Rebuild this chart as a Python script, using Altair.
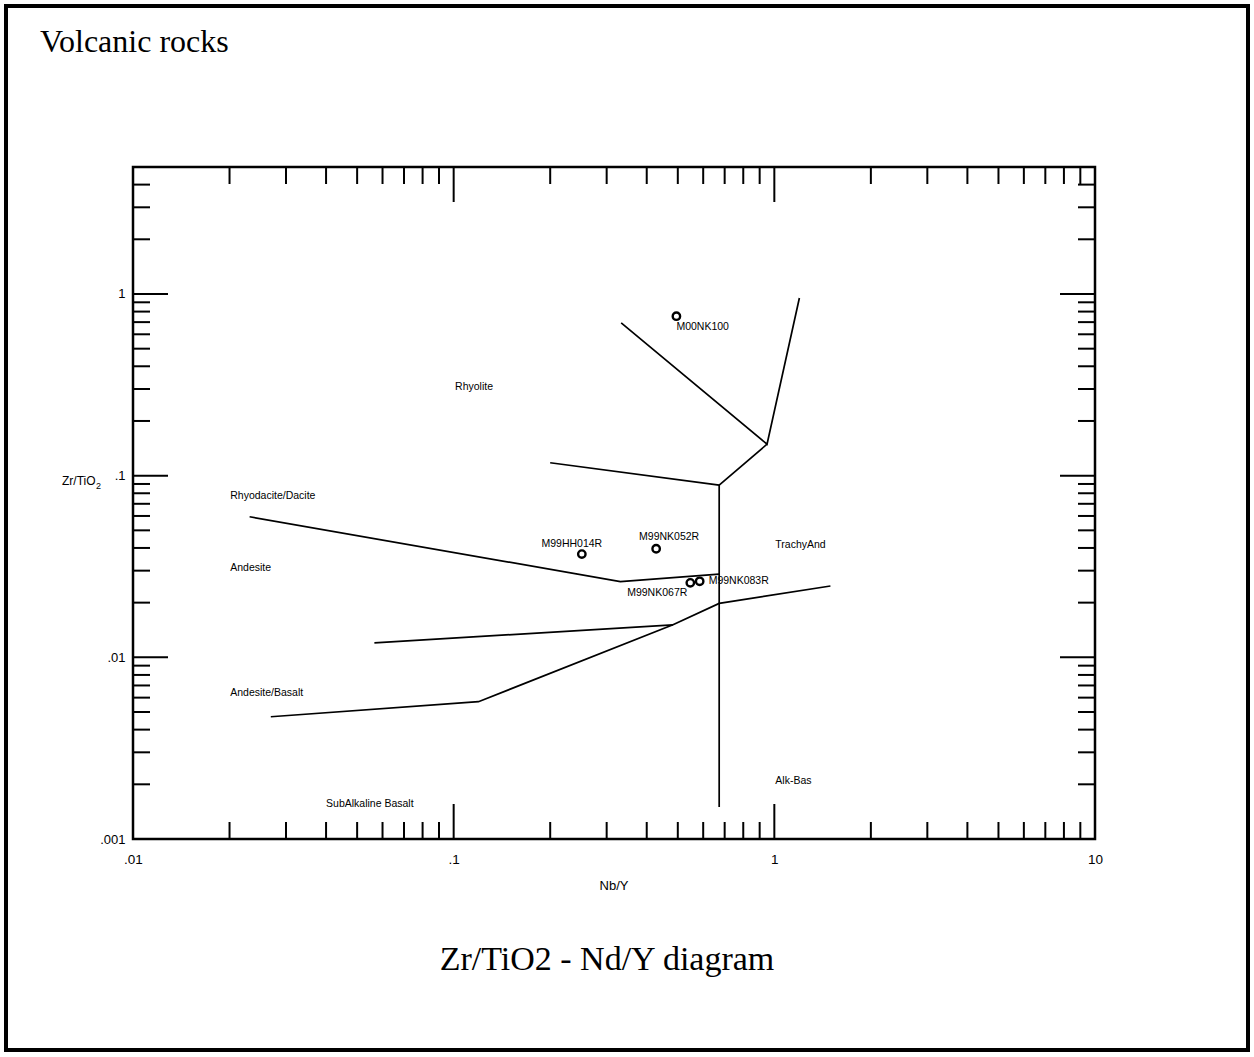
import altair as alt
import pandas as pd

# ---------------- data ----------------
chart_title = "Volcanic rocks"
diagram_title = "Zr/TiO2 - Nd/Y diagram"
x_title = "Nb/Y"
y_title_main = "Zr/TiO"
y_title_sub = "2"

x_tick_values = [0.01, 0.1, 1, 10]
x_tick_labels = [".01", ".1", "1", "10"]
y_tick_values = [0.001, 0.01, 0.1, 1]
y_tick_labels = [".001", ".01", ".1", "1"]

x_major_inner = [0.1, 1]
x_minor = [0.02, 0.03, 0.04, 0.05, 0.06, 0.07, 0.08, 0.09,
           0.2, 0.3, 0.4, 0.5, 0.6, 0.7, 0.8, 0.9,
           2, 3, 4, 5, 6, 7, 8, 9]
y_major_inner = [0.01, 0.1, 1]
y_minor = [0.002, 0.003, 0.004, 0.005, 0.006, 0.007, 0.008, 0.009,
           0.02, 0.03, 0.04, 0.05, 0.06, 0.07, 0.08, 0.09,
           0.2, 0.3, 0.4, 0.5, 0.6, 0.7, 0.8, 0.9,
           2, 3, 4]

sample_names = ["M00NK100", "M99HH014R", "M99NK052R", "M99NK067R", "M99NK083R"]
sample_nb_y = [0.495, 0.251, 0.428, 0.547, 0.585]
sample_zr_ti = [0.755, 0.0370, 0.0396, 0.0257, 0.0262]

line_seg = ["A", "A", "A",
            "B", "B", "B",
            "C", "C",
            "D", "D", "D",
            "E", "E",
            "F", "F", "F", "F", "F"]
line_x = [0.333, 0.949, 1.197,
          0.949, 0.673, 0.673,
          0.200, 0.673,
          0.0231, 0.331, 0.673,
          0.0566, 0.483,
          0.0269, 0.1195, 0.483, 0.673, 1.496]
line_y = [0.694, 0.149, 0.95,
          0.149, 0.0887, 0.0015,
          0.1178, 0.0887,
          0.0594, 0.0261, 0.0287,
          0.0120, 0.0151,
          0.00471, 0.0057, 0.0151, 0.0198, 0.0247]

region_names = ["Rhyolite", "Rhyodacite/Dacite", "Andesite", "Andesite/Basalt",
                "SubAlkaline Basalt", "TrachyAnd", "Alk-Bas"]
region_x = [0.101, 0.0201, 0.0201, 0.0201, 0.040, 1.007, 1.007]
region_y = [0.308, 0.0774, 0.031, 0.00636, 0.00156, 0.0415, 0.00209]

# ---------------- layout ----------------
W, H = 962, 672
LEFT, TOP = 133, 167
FONT = "Liberation Sans"
SERIF = "Liberation Serif"

xscale = alt.Scale(type="log", domain=[0.01, 10], nice=False)
yscale = alt.Scale(type="log", domain=[0.001, 5], nice=False)


def label_expr(values, labels):
    expr = "''"
    for v, l in reversed(list(zip(values, labels))):
        expr = f"abs(datum.value - {v}) < {v * 1e-6} ? '{l}' : ({expr})"
    return expr


xaxis = alt.Axis(values=x_tick_values, labelExpr=label_expr(x_tick_values, x_tick_labels),
                 ticks=False, domain=False, grid=False, title=None, labelFontSize=13.5,
                 labelPadding=13, labelFont=FONT, labelColor="black", labelAngle=0,
                 labelFlush=False, labelOverlap=False)
yaxis = alt.Axis(values=y_tick_values, labelExpr=label_expr(y_tick_values, y_tick_labels),
                 ticks=False, domain=False, grid=False, title=None, labelFontSize=13,
                 labelPadding=8, labelFont=FONT, labelColor="black",
                 labelFlush=False, labelOverlap=False)

X = lambda f: alt.X(f, type="quantitative", scale=xscale, axis=xaxis)
Y = lambda f: alt.Y(f, type="quantitative", scale=yscale, axis=yaxis)

one = pd.DataFrame({"k": [0]})

frame = alt.Chart(one).mark_rect(fillOpacity=0, stroke="black", strokeWidth=4).encode(
    x=alt.value(6 - LEFT), x2=alt.value(1248 - LEFT),
    y=alt.value(6 - TOP), y2=alt.value(1050 - TOP))

lines_df = pd.DataFrame({"seg": line_seg, "x": line_x, "y": line_y,
                         "i": list(range(len(line_x)))})
lines = alt.Chart(lines_df).mark_line(color="black", strokeWidth=1.7).encode(
    x=X("x"), y=Y("y"), detail="seg:N", order="i:Q")

MAJ, MIN = 35, 17


def xticks(vals, length):
    d = pd.DataFrame({"v": vals})
    top = alt.Chart(d).mark_rule(color="black", strokeWidth=2).encode(
        x=X("v"), y=alt.value(0), y2=alt.value(length))
    bot = alt.Chart(d).mark_rule(color="black", strokeWidth=2).encode(
        x=X("v"), y=alt.value(H), y2=alt.value(H - length))
    return [top, bot]


def yticks(vals, length):
    d = pd.DataFrame({"v": vals})
    left = alt.Chart(d).mark_rule(color="black", strokeWidth=2).encode(
        y=Y("v"), x=alt.value(0), x2=alt.value(length))
    right = alt.Chart(d).mark_rule(color="black", strokeWidth=2).encode(
        y=Y("v"), x=alt.value(W), x2=alt.value(W - length))
    return [left, right]


ticks = xticks(x_major_inner, MAJ) + xticks(x_minor, MIN) + yticks(y_major_inner, MAJ) + yticks(y_minor, MIN)

samples_df = pd.DataFrame({"name": sample_names, "x": sample_nb_y, "y": sample_zr_ti})
points = alt.Chart(samples_df).mark_point(shape="circle", filled=False, color="black",
                                          size=55, strokeWidth=2.4, opacity=1).encode(
    x=X("x"), y=Y("y"))

label_style = {
    "M00NK100": dict(align="left", dx=0, dy=11),
    "M99HH014R": dict(align="center", dx=-10, dy=-10),
    "M99NK052R": dict(align="center", dx=13, dy=-12),
    "M99NK067R": dict(align="right", dx=-3, dy=10),
    "M99NK083R": dict(align="left", dx=9, dy=0),
}
sample_labels = []
for name in sample_names:
    st = label_style[name]
    sample_labels.append(
        alt.Chart(samples_df[samples_df["name"] == name]).mark_text(
            font=FONT, fontSize=10.5, color="black", baseline="middle", **st).encode(
            x=X("x"), y=Y("y"), text="name:N"))

regions_df = pd.DataFrame({"name": region_names, "x": region_x, "y": region_y})
regions = alt.Chart(regions_df).mark_text(font=FONT, fontSize=10.5, color="black",
                                          align="left", baseline="middle").encode(
    x=X("x"), y=Y("y"), text="name:N")

title1 = alt.Chart(one).mark_text(font=SERIF, fontSize=32, color="black", align="left",
                                  baseline="middle").encode(
    x=alt.value(40 - LEFT), y=alt.value(42 - TOP), text=alt.value(chart_title))
title2 = alt.Chart(one).mark_text(font=SERIF, fontSize=34, color="black", align="center",
                                  baseline="middle").encode(
    x=alt.value(607 - LEFT), y=alt.value(960 - TOP), text=alt.value(diagram_title))
xlab = alt.Chart(one).mark_text(font=FONT, fontSize=13, color="black", align="center",
                                baseline="middle").encode(
    x=alt.value(614 - LEFT), y=alt.value(886 - TOP), text=alt.value(x_title))
ylab = alt.Chart(one).mark_text(font=FONT, fontSize=12, color="black", align="left",
                                baseline="middle").encode(
    x=alt.value(62 - LEFT), y=alt.value(481 - TOP), text=alt.value(y_title_main))
ylab_sub = alt.Chart(one).mark_text(font=FONT, fontSize=9, color="black", align="left",
                                    baseline="middle").encode(
    x=alt.value(96 - LEFT), y=alt.value(486 - TOP), text=alt.value(y_title_sub))

chart = alt.layer(frame, lines, *ticks, points, *sample_labels, regions,
                  title1, title2, xlab, ylab, ylab_sub).properties(
    width=W, height=H,
    autosize=alt.AutoSizeParams(type="none"),
    padding={"left": LEFT, "top": TOP, "right": 1254 - LEFT - W, "bottom": 1057 - TOP - H},
    background="white",
).configure_view(stroke="black", strokeWidth=2.5)

chart.save("out.html", embed_options={"renderer": "svg", "actions": False})
